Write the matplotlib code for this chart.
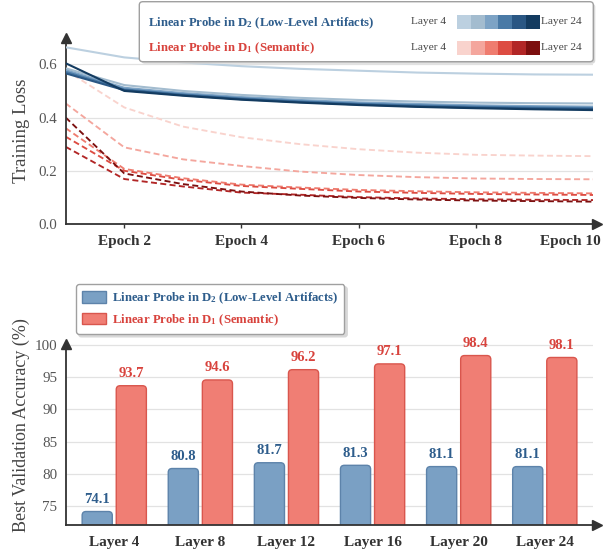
import numpy as np
import matplotlib
matplotlib.use('Agg')
import matplotlib.pyplot as plt
from matplotlib.patches import FancyBboxPatch, Patch
from matplotlib.colors import ListedColormap
from matplotlib.transforms import ScaledTranslation

plt.rcParams['font.family'] = ['Liberation Serif', 'DejaVu Serif']
plt.rcParams['mathtext.fontset'] = 'custom'
plt.rcParams['mathtext.rm'] = 'Liberation Serif:bold'
plt.rcParams['mathtext.it'] = 'Liberation Serif:bold'
plt.rcParams['mathtext.bf'] = 'Liberation Serif:bold'

# ---- data: training loss per epoch ----
epochs = [1, 2, 3, 4, 5, 6, 7, 8, 9, 10]
layers = ['Layer 4', 'Layer 8', 'Layer 12', 'Layer 16', 'Layer 20', 'Layer 24']

loss_d2 = [  # linear probe in D2 (low-level artifacts), layer 4 -> 24
    [0.664, 0.626, 0.607, 0.593, 0.583, 0.576, 0.569, 0.565, 0.562, 0.561],
    [0.585, 0.522, 0.500, 0.485, 0.474, 0.466, 0.460, 0.456, 0.454, 0.453],
    [0.578, 0.512, 0.492, 0.477, 0.466, 0.457, 0.451, 0.446, 0.443, 0.441],
    [0.572, 0.506, 0.487, 0.472, 0.461, 0.452, 0.446, 0.441, 0.438, 0.436],
    [0.566, 0.503, 0.484, 0.469, 0.458, 0.449, 0.442, 0.437, 0.434, 0.432],
    [0.604, 0.500, 0.482, 0.467, 0.456, 0.447, 0.440, 0.435, 0.431, 0.428],
]
loss_d1 = [  # linear probe in D1 (semantic), layer 4 -> 24
    [0.578, 0.438, 0.366, 0.326, 0.300, 0.281, 0.268, 0.260, 0.257, 0.255],
    [0.453, 0.288, 0.243, 0.218, 0.197, 0.184, 0.176, 0.171, 0.169, 0.168],
    [0.360, 0.207, 0.172, 0.148, 0.137, 0.128, 0.123, 0.119, 0.117, 0.115],
    [0.328, 0.200, 0.166, 0.143, 0.132, 0.122, 0.117, 0.113, 0.111, 0.109],
    [0.290, 0.169, 0.141, 0.118, 0.110, 0.101, 0.096, 0.093, 0.091, 0.090],
    [0.400, 0.190, 0.150, 0.122, 0.107, 0.098, 0.092, 0.088, 0.086, 0.084],
]

# ---- data: best validation accuracy ----
acc_d2 = [74.1, 80.8, 81.7, 81.3, 81.1, 81.1]
acc_d1 = [93.7, 94.6, 96.2, 97.1, 98.4, 98.1]

blues = ['#bcd0e0', '#a3bccf', '#7da3c5', '#4a7aa6', '#2a5784', '#133b60']
reds = ['#f9d3cd', '#f4a69d', '#ef7c6f', '#dd4c42', '#b22626', '#7c0f0f']
c_blue_txt = '#2e5d8c'
c_red_txt = '#d8433d'
axis_c = '#333333'
grid_c = '#e2e2e2'

lbl_d2 = r'Linear Probe in $\mathrm{D}_{2}$ (Low-Level Artifacts)'
lbl_d1 = r'Linear Probe in $\mathrm{D}_{1}$ (Semantic)'

fig = plt.figure(figsize=(6.09, 5.54), dpi=100)
W, H = 609.0, 554.0


def style_axes(ax):
    for s in ['top', 'right']:
        ax.spines[s].set_visible(False)
    for s in ['left', 'bottom']:
        ax.spines[s].set_color(axis_c)
        ax.spines[s].set_linewidth(1.3)
    ax.yaxis.grid(True, color=grid_c, lw=0.9)
    ax.set_axisbelow(True)
    ax.plot(0, 1, '^', transform=ax.transAxes, clip_on=False, ms=7, color=axis_c, zorder=5)
    ax.plot(1.007, 0, '>', transform=ax.transAxes, clip_on=False, ms=7, color=axis_c, zorder=5)
    ax.tick_params(axis='y', length=0, pad=6, labelsize=10.8, labelcolor='#555555')


# ================= top: training loss =================
ax1 = fig.add_axes([65.7 / W, 1 - 224 / H, 527.3 / W, 186.3 / H])
for i in range(len(layers)):
    ax1.plot(epochs, loss_d1[i], color=reds[i], lw=1.35, ls=(0, (3.2, 1.8)), zorder=2)
for i in range(len(layers)):
    ax1.plot(epochs, loss_d2[i], color=blues[i], lw=1.5, zorder=3)
ax1.set_xlim(1, 10)
ax1.set_ylim(0, 0.70)
ax1.set_yticks([0.0, 0.2, 0.4, 0.6])
ax1.set_yticklabels(['0.0', '0.2', '0.4', '0.6'])
ax1.set_xticks([2, 4, 6, 8, 10])
ax1.set_xticklabels(['Epoch 2', 'Epoch 4', 'Epoch 6', 'Epoch 8', 'Epoch 10'],
                    fontweight='bold', fontsize=11, color='#333333')
ax1.tick_params(axis='x', length=3, width=1, color=axis_c, pad=5)
style_axes(ax1)
ax1.set_ylabel('Training Loss', fontsize=13.5, color='#444444')
ax1.yaxis.set_label_coords(-0.068, 0.5)
lab = ax1.get_xticklabels()[-1]
lab.set_transform(lab.get_transform() + ScaledTranslation(-0.23, 0, fig.dpi_scale_trans))

# custom legend box for the top chart
shadow = FancyBboxPatch((141.3 / W, 1 - 63.7 / H), 454 / W, 60 / H,
                        boxstyle='round,pad=0,rounding_size=0.006', transform=fig.transFigure,
                        facecolor='#d8d8d8', edgecolor='none', zorder=4)
box = FancyBboxPatch((139.3 / W, 1 - 61.7 / H), 454 / W, 60 / H,
                     boxstyle='round,pad=0,rounding_size=0.006', transform=fig.transFigure,
                     facecolor='white', edgecolor='#a0a0a0', lw=1.0, zorder=4)
fig.patches.extend([shadow, box])
fig.text(148.3 / W, 1 - 25.8 / H, lbl_d2, color=c_blue_txt, fontsize=9.2,
         fontweight='bold', va='baseline', zorder=6)
fig.text(148.3 / W, 1 - 50.8 / H, lbl_d1, color=c_red_txt, fontsize=9.2,
         fontweight='bold', va='baseline', zorder=6)
for row_y, cols in [(22.0, blues), (48.0, reds)]:
    fig.text(446 / W, 1 - row_y / H, 'Layer 4', ha='right', va='center',
             fontsize=8.2, color='#444444', zorder=6)
    fig.text(540.7 / W, 1 - row_y / H, 'Layer 24', ha='left', va='center',
             fontsize=8.2, color='#444444', zorder=6)
    cax = fig.add_axes([456.7 / W, 1 - (row_y + 7) / H, 82.6 / W, 14 / H], zorder=6)
    cax.imshow(np.arange(len(cols))[None, :], cmap=ListedColormap(cols), aspect='auto')
    cax.set_axis_off()

# ================= bottom: validation accuracy =================
ax2 = fig.add_axes([65.7 / W, 1 - 525 / H, 527.3 / W, 181 / H])
x = np.arange(len(layers))
bw = 0.35
off = 0.198
ax2.set_xlim(-0.564, 5.56)
ax2.set_ylim(72, 100.2)
bars_b = ax2.bar(x - off, acc_d2, bw, color='#7aa0c4', edgecolor='#5d83aa', lw=1.0, zorder=2)
bars_r = ax2.bar(x + off, acc_d1, bw, color='#f07e74', edgecolor='#d9564d', lw=1.0, zorder=2)

# replace plain bars by rounded ones
aspect = 86.06 / 6.43
for bars in [bars_b, bars_r]:
    for r in bars:
        rp = FancyBboxPatch((r.get_x(), r.get_y()), r.get_width(), r.get_height(),
                            boxstyle='round,pad=0,rounding_size=0.045', mutation_aspect=aspect,
                            facecolor=r.get_facecolor(), edgecolor=r.get_edgecolor(),
                            lw=1.0, zorder=2)
        r.set_visible(False)
        ax2.add_patch(rp)

for xi, v in zip(x - off, acc_d2):
    ax2.annotate(f'{v:.1f}', (xi, v), xytext=(0, 4), textcoords='offset points',
                 ha='center', va='bottom', fontsize=10.5, fontweight='bold', color=c_blue_txt)
for xi, v in zip(x + off, acc_d1):
    ax2.annotate(f'{v:.1f}', (xi, v), xytext=(0, 4), textcoords='offset points',
                 ha='center', va='bottom', fontsize=10.5, fontweight='bold', color=c_red_txt)

ax2.set_yticks([75, 80, 85, 90, 95, 100])
ax2.set_xticks(x)
ax2.set_xticklabels(layers, fontweight='bold', fontsize=11, color='#333333')
ax2.tick_params(axis='x', length=0, pad=8)
style_axes(ax2)
ax2.set_ylabel('Best Validation Accuracy (%)', fontsize=13, color='#444444')
ax2.yaxis.set_label_coords(-0.068, 0.55)

handles = [Patch(facecolor='#7aa0c4', edgecolor='#5d83aa', label=lbl_d2),
           Patch(facecolor='#f07e74', edgecolor='#d9564d', label=lbl_d1)]
leg = ax2.legend(handles=handles, loc='upper left', bbox_to_anchor=(76 / W, 1 - 284 / H),
                 bbox_transform=fig.transFigure, borderaxespad=0, frameon=True, fancybox=True,
                 edgecolor='#a0a0a0', framealpha=1, prop={'weight': 'bold', 'size': 9.2},
                 handlelength=1.85, handleheight=1.05, handletextpad=0.45, labelspacing=0.5,
                 borderpad=0.5, shadow={'color': '#d8d8d8', 'alpha': 1})
leg.get_frame().set_linewidth(1.0)
for t, c in zip(leg.get_texts(), [c_blue_txt, c_red_txt]):
    t.set_color(c)
leg.set_zorder(10)

fig.savefig('out.png', dpi=100)
